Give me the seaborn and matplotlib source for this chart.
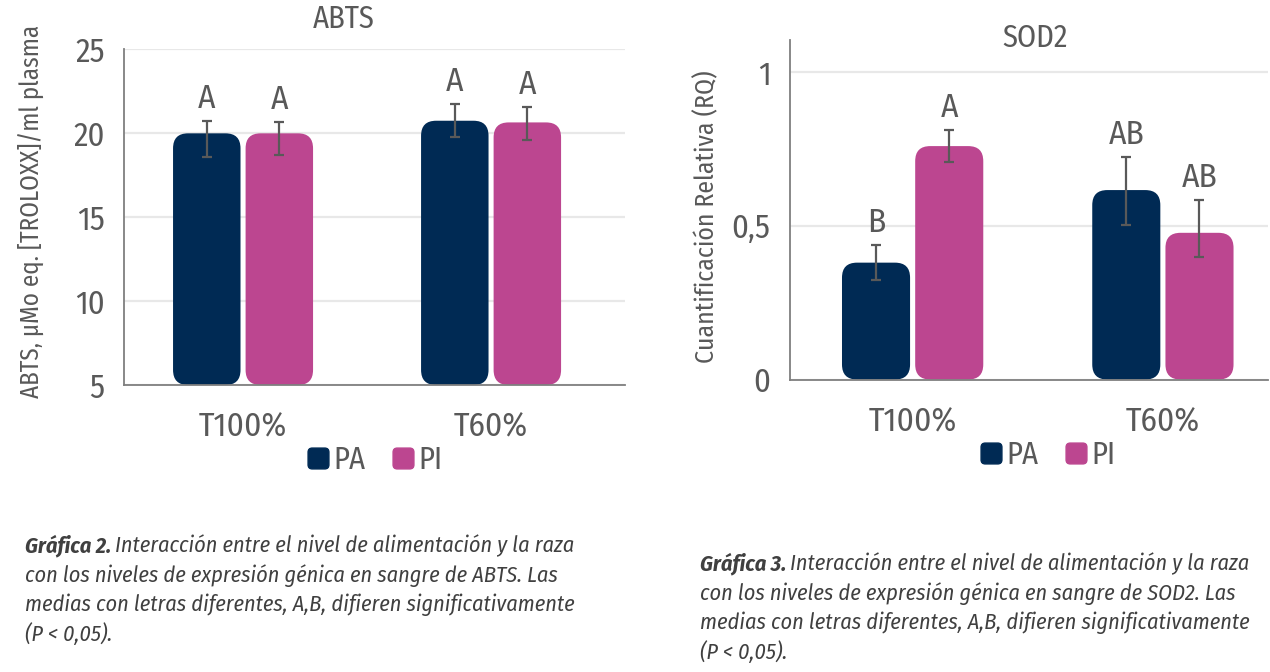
import numpy as np
import pandas as pd
import matplotlib
matplotlib.use("Agg")
import matplotlib.pyplot as plt
from matplotlib.patches import FancyBboxPatch, BoxStyle
from matplotlib.lines import Line2D
import seaborn as sns

# data
groups = ['T100%', 'T60%']
breeds = ['PA', 'PI']

abts_pa = [19.98, 20.73]
abts_pi = [19.98, 20.63]
abts_pa_lo = [18.59, 19.78]
abts_pa_hi = [20.69, 21.73]
abts_pi_lo = [18.71, 19.60]
abts_pi_hi = [20.63, 21.53]
abts_let_pa = ['A', 'A']
abts_let_pi = ['A', 'A']

sod2_pa = [0.380, 0.616]
sod2_pi = [0.759, 0.477]
sod2_pa_lo = [0.323, 0.502]
sod2_pa_hi = [0.437, 0.724]
sod2_pi_lo = [0.707, 0.399]
sod2_pi_hi = [0.811, 0.584]
sod2_let_pa = ['B', 'AB']
sod2_let_pi = ['A', 'AB']

caption2 = ["Interacción entre el nivel de alimentación y la raza",
            "con los niveles de expresión génica en sangre de ABTS. Las",
            "medias con letras diferentes, A,B, difieren significativamente",
            "(P < 0,05)."]
caption3 = ["Interacción entre el nivel de alimentación y la raza",
            "con los niveles de expresión génica en sangre de SOD2. Las",
            "medias con letras diferentes, A,B, difieren significativamente",
            "(P < 0,05)."]

NAVY = '#002a54'
PINK = '#bc4690'
GREY = '#595959'

sns.set_style('white')
# condensed face if there is one (the original uses a condensed sans)
plt.rcParams['font.family'] = ['Fira Sans Condensed', 'DejaVu Sans']
plt.rcParams['font.stretch'] = 'condensed'

W, H = 1270, 672
fig = plt.figure(figsize=(W / 100, H / 100), dpi=100)


def px(x, y):
    return x / W, 1 - y / H


def make_df(pa, pi, pa_lo, pa_hi, pi_lo, pi_hi, let_pa, let_pi):
    rows = []
    for b, vals, lo, hi, let in [('PA', pa, pa_lo, pa_hi, let_pa), ('PI', pi, pi_lo, pi_hi, let_pi)]:
        for g, v, l, h, t in zip(groups, vals, lo, hi, let):
            rows.append(dict(grupo=g, raza=b, valor=v, lo=l, hi=h, letra=t))
    return pd.DataFrame(rows)


def panel(rect, df, ylim, yticks, yticklabels, xlim):
    ax = fig.add_axes(rect)
    sns.barplot(data=df, x='grupo', y='valor', hue='raza', order=groups, hue_order=breeds,
                palette=[NAVY, PINK], saturation=1, width=0.585, gap=0.07, errorbar=None,
                legend=False, ax=ax)
    ax.set_xlim(*xlim)
    ax.set_ylim(*ylim)
    ax.set_yticks(yticks)
    ax.set_yticklabels(yticklabels)
    ax.set_xlabel('')
    ax.set_ylabel('')
    ax.grid(axis='y', color='#e8e8e8', lw=1.6)
    ax.set_axisbelow(True)
    for s in ['top', 'right']:
        ax.spines[s].set_visible(False)
    for s in ['left', 'bottom']:
        ax.spines[s].set_color('#7f7f7f')
        ax.spines[s].set_linewidth(1.3)
    ax.tick_params(axis='y', length=0, pad=14, labelsize=23.5, labelcolor=GREY)
    ax.tick_params(axis='x', length=0, pad=19, labelsize=24, labelcolor=GREY)

    # rounded bars
    sx = ax.transData.transform((1, 0))[0] - ax.transData.transform((0, 0))[0]
    sy = ax.transData.transform((0, 1))[1] - ax.transData.transform((0, 0))[1]
    rad = 15
    ymin = ylim[0]
    bars = list(ax.patches)
    for p, (_, r) in zip(bars, df.iterrows()):
        x, w, h = p.get_x(), p.get_width(), p.get_height()
        fc = p.get_facecolor()
        p.remove()
        ax.add_patch(FancyBboxPatch((x, ymin), w, h - ymin,
                                    boxstyle=f"round,pad=0,rounding_size={rad / sx}",
                                    mutation_aspect=sx / sy, fc=fc, ec='none', zorder=2))
        xc = x + w / 2
        ax.errorbar([xc], [r.valor], yerr=[[r.valor - r.lo], [r.hi - r.valor]], fmt='none',
                    ecolor=GREY, elinewidth=1.6, capsize=3.4, capthick=1.6, zorder=3)
        ax.annotate(r.letra, (xc, r.hi), xytext=(0, 9.5), textcoords='offset points',
                    ha='center', va='baseline', fontsize=24, color=GREY)
    return ax


df_abts = make_df(abts_pa, abts_pi, abts_pa_lo, abts_pa_hi, abts_pi_lo, abts_pi_hi, abts_let_pa, abts_let_pi)
df_sod2 = make_df(sod2_pa, sod2_pi, sod2_pa_lo, sod2_pa_hi, sod2_pi_lo, sod2_pi_hi, sod2_let_pa, sod2_let_pi)

ax1 = panel([124 / W, 1 - 385 / H, 501 / W, 336 / H], df_abts, (5, 25),
            [5, 10, 15, 20, 25], ['5', '10', '15', '20', '25'], (-0.48, 1.54))
ax2 = panel([790 / W, 1 - 379.5 / H, 478 / W, 339.5 / H], df_sod2, (0, 1.104),
            [0, 0.5, 1], ['0', '0,5', '1'], (-0.49, 1.42))

# titles and axis labels
fig.text(*px(344, 19), 'ABTS', ha='center', va='center', fontsize=22, color=GREY)
fig.text(*px(1035, 38), 'SOD2', ha='center', va='center', fontsize=22, color=GREY)
fig.text(*px(31, 211), 'ABTS, µMo eq. [TROLOXX]/ml plasma', rotation=90,
         ha='center', va='center', fontsize=18, color=GREY)
fig.text(*px(707, 217), 'Cuantificación Relativa (RQ)', rotation=90,
         ha='center', va='center', fontsize=18.5, color=GREY)

# legends, rounded square keys
rsq = BoxStyle("Round", pad=0, rounding_size=0.2)(-0.5, -0.5, 1, 1, 1.0)
handles = [Line2D([], [], ls='none', marker=rsq, ms=15, mfc=c, mec=c) for c in [NAVY, PINK]]
for cx, cy in [(375, 460), (1048, 455)]:
    fig.legend(handles, breeds, loc='center', bbox_to_anchor=px(cx, cy), ncol=2, frameon=False,
               fontsize=22, labelcolor=GREY, handlelength=0.7, handletextpad=0.15,
               columnspacing=0.9, borderpad=0)

# captions
renderer = fig.canvas.get_renderer()
CAP = '#404040'


def caption(x0, y0, num, lines):
    t = fig.text(*px(x0, y0), f'Gráfica {num}.', fontsize=16, fontweight='bold', style='italic',
                 color=CAP, va='center', ha='left')
    bb = t.get_window_extent(renderer)
    fig.text((bb.x1 + 4) / W, 1 - y0 / H, lines[0], fontsize=16, style='italic',
             color=CAP, va='center', ha='left')
    for i, ln in enumerate(lines[1:], 1):
        fig.text(*px(x0, y0 + 29.5 * i), ln, fontsize=16, style='italic', color=CAP,
                 va='center', ha='left')


caption(25, 546, 2, caption2)
caption(700, 564, 3, caption3)

fig.savefig('out.png', dpi=100)
